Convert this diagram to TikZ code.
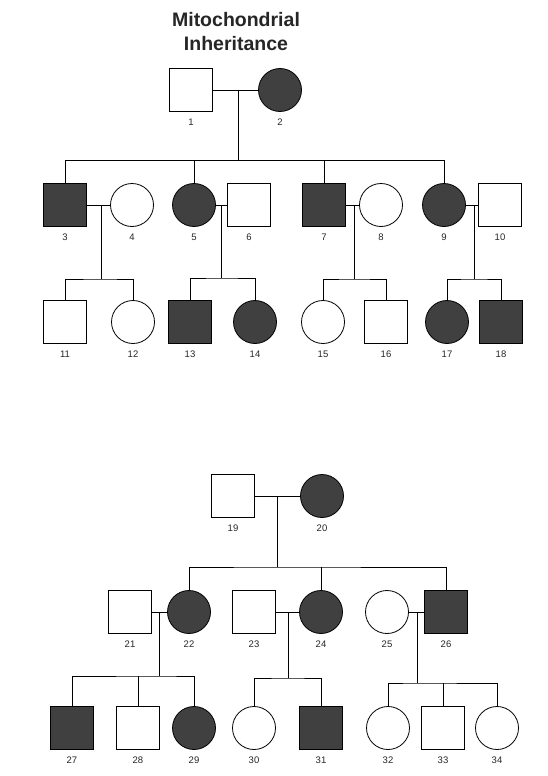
\documentclass[tikz,border=0pt]{standalone}
\usepackage{fontspec}
\setmainfont{Liberation Sans}
\begin{document}
\begin{tikzpicture}[x=1pt,y=-1pt]
\definecolor{affc}{HTML}{404040}
\tikzset{
  base/.style={draw=black, line width=0.8pt, minimum size=43pt, inner sep=0pt},
  male/.style={base, rectangle},
  female/.style={base, circle},
  aff/.style={fill=affc},
  every label/.style={font=\fontsize{9.5}{10}\selectfont, inner sep=0pt, text=black!85},
  label distance=7pt,
  ln/.style={draw=black, line width=0.8pt},
  ttl/.style={font=\bfseries\fontsize{19.5}{21}\selectfont, anchor=base, inner sep=0pt, text=black!85}
}
\useasboundingbox (0,0) rectangle (548,776);
\fill[white] (0,0) rectangle (548,776);
% title
\node[ttl] (t1) at (236,27) {Mitochondrial};
\node[ttl] (t2) at (236,51) {Inheritance};
% ---------------- top pedigree ----------------
\node[male, label=below:1] (n1) at (191,90) {};
\node[female, aff, label=below:2] (n2) at (280,90) {};
\node[male, aff, label=below:3] (n3) at (65,205) {};
\node[female, label=below:4] (n4) at (132,205) {};
\node[female, aff, label=below:5] (n5) at (194,205) {};
\node[male, label=below:6] (n6) at (249,205) {};
\node[male, aff, label=below:7] (n7) at (324,205) {};
\node[female, label=below:8] (n8) at (381,205) {};
\node[female, aff, label=below:9] (n9) at (444,205) {};
\node[male, label=below:10] (n10) at (500,205) {};
\node[male, label=below:11] (n11) at (65,322) {};
\node[female, label=below:12] (n12) at (133,322) {};
\node[male, aff, label=below:13] (n13) at (190,322) {};
\node[female, aff, label=below:14] (n14) at (255,322) {};
\node[female, label=below:15] (n15) at (323,322) {};
\node[male, label=below:16] (n16) at (386,322) {};
\node[female, aff, label=below:17] (n17) at (447,322) {};
\node[male, aff, label=below:18] (n18) at (501,322) {};
% couple midpoints and sibship junctions
\coordinate (m12) at (238,90);   \coordinate (j12) at (238,160);
\coordinate (m34) at (101,205);  \coordinate (j34) at (101,279);
\coordinate (m56) at (221,205);  \coordinate (j56) at (221,278);
\coordinate (m78) at (354,205);  \coordinate (j78) at (354,279);
\coordinate (m910) at (474,205); \coordinate (j910) at (474,279);
% couple lines
\draw[ln] (n1) -- (n2);
\draw[ln] (n3) -- (n4);
\draw[ln] (n5) -- (n6);
\draw[ln] (n7) -- (n8);
\draw[ln] (n9) -- (n10);
% descent lines
\draw[ln] (m12) -- (j12);
\draw[ln] (n3.north) |- (j12);
\draw[ln] (n9.north) |- (j12);
\draw[ln] (n5.north) -- (n5.north |- j12);
\draw[ln] (n7.north) -- (n7.north |- j12);
\draw[ln] (m34) -- (j34);
\draw[ln] (n11.north) |- (j34) -| (n12.north);
\draw[ln] (m56) -- (j56);
\draw[ln] (n13.north) |- (j56) -| (n14.north);
\draw[ln] (m78) -- (j78);
\draw[ln] (n15.north) |- (j78) -| (n16.north);
\draw[ln] (m910) -- (j910);
\draw[ln] (n17.north) |- (j910) -| (n18.north);
% ---------------- bottom pedigree ----------------
\node[male, label=below:19] (n19) at (233,496) {};
\node[female, aff, label=below:20] (n20) at (322,496) {};
\node[male, label=below:21] (n21) at (130,612) {};
\node[female, aff, label=below:22] (n22) at (189,612) {};
\node[male, label=below:23] (n23) at (254,612) {};
\node[female, aff, label=below:24] (n24) at (321,612) {};
\node[female, label=below:25] (n25) at (387,612) {};
\node[male, aff, label=below:26] (n26) at (446,612) {};
\node[male, aff, label=below:27] (n27) at (72,728) {};
\node[male, label=below:28] (n28) at (138,728) {};
\node[female, aff, label=below:29] (n29) at (194,728) {};
\node[female, label=below:30] (n30) at (254,728) {};
\node[male, aff, label=below:31] (n31) at (321,728) {};
\node[female, label=below:32] (n32) at (388,728) {};
\node[male, label=below:33] (n33) at (443,728) {};
\node[female, label=below:34] (n34) at (497,728) {};
\coordinate (m1920) at (277,496); \coordinate (j1920) at (277,567);
\coordinate (m2122) at (159,612); \coordinate (j2122) at (159,676);
\coordinate (m2324) at (288,612); \coordinate (j2324) at (288,678);
\coordinate (m2526) at (417,612); \coordinate (j2526) at (417,683);
\draw[ln] (n19) -- (n20);
\draw[ln] (n21) -- (n22);
\draw[ln] (n23) -- (n24);
\draw[ln] (n25) -- (n26);
\draw[ln] (m1920) -- (j1920);
\draw[ln] (n22.north) |- (j1920) -| (n26.north);
\draw[ln] (n24.north) -- (n24.north |- j1920);
\draw[ln] (m2122) -- (j2122);
\draw[ln] (n27.north) |- (j2122) -| (n29.north);
\draw[ln] (n28.north) -- (n28.north |- j2122);
\draw[ln] (m2324) -- (j2324);
\draw[ln] (n30.north) |- (j2324) -| (n31.north);
\draw[ln] (m2526) -- (j2526);
\draw[ln] (n32.north) |- (j2526) -| (n34.north);
\draw[ln] (n33.north) -- (n33.north |- j2526);
\end{tikzpicture}
\end{document}
